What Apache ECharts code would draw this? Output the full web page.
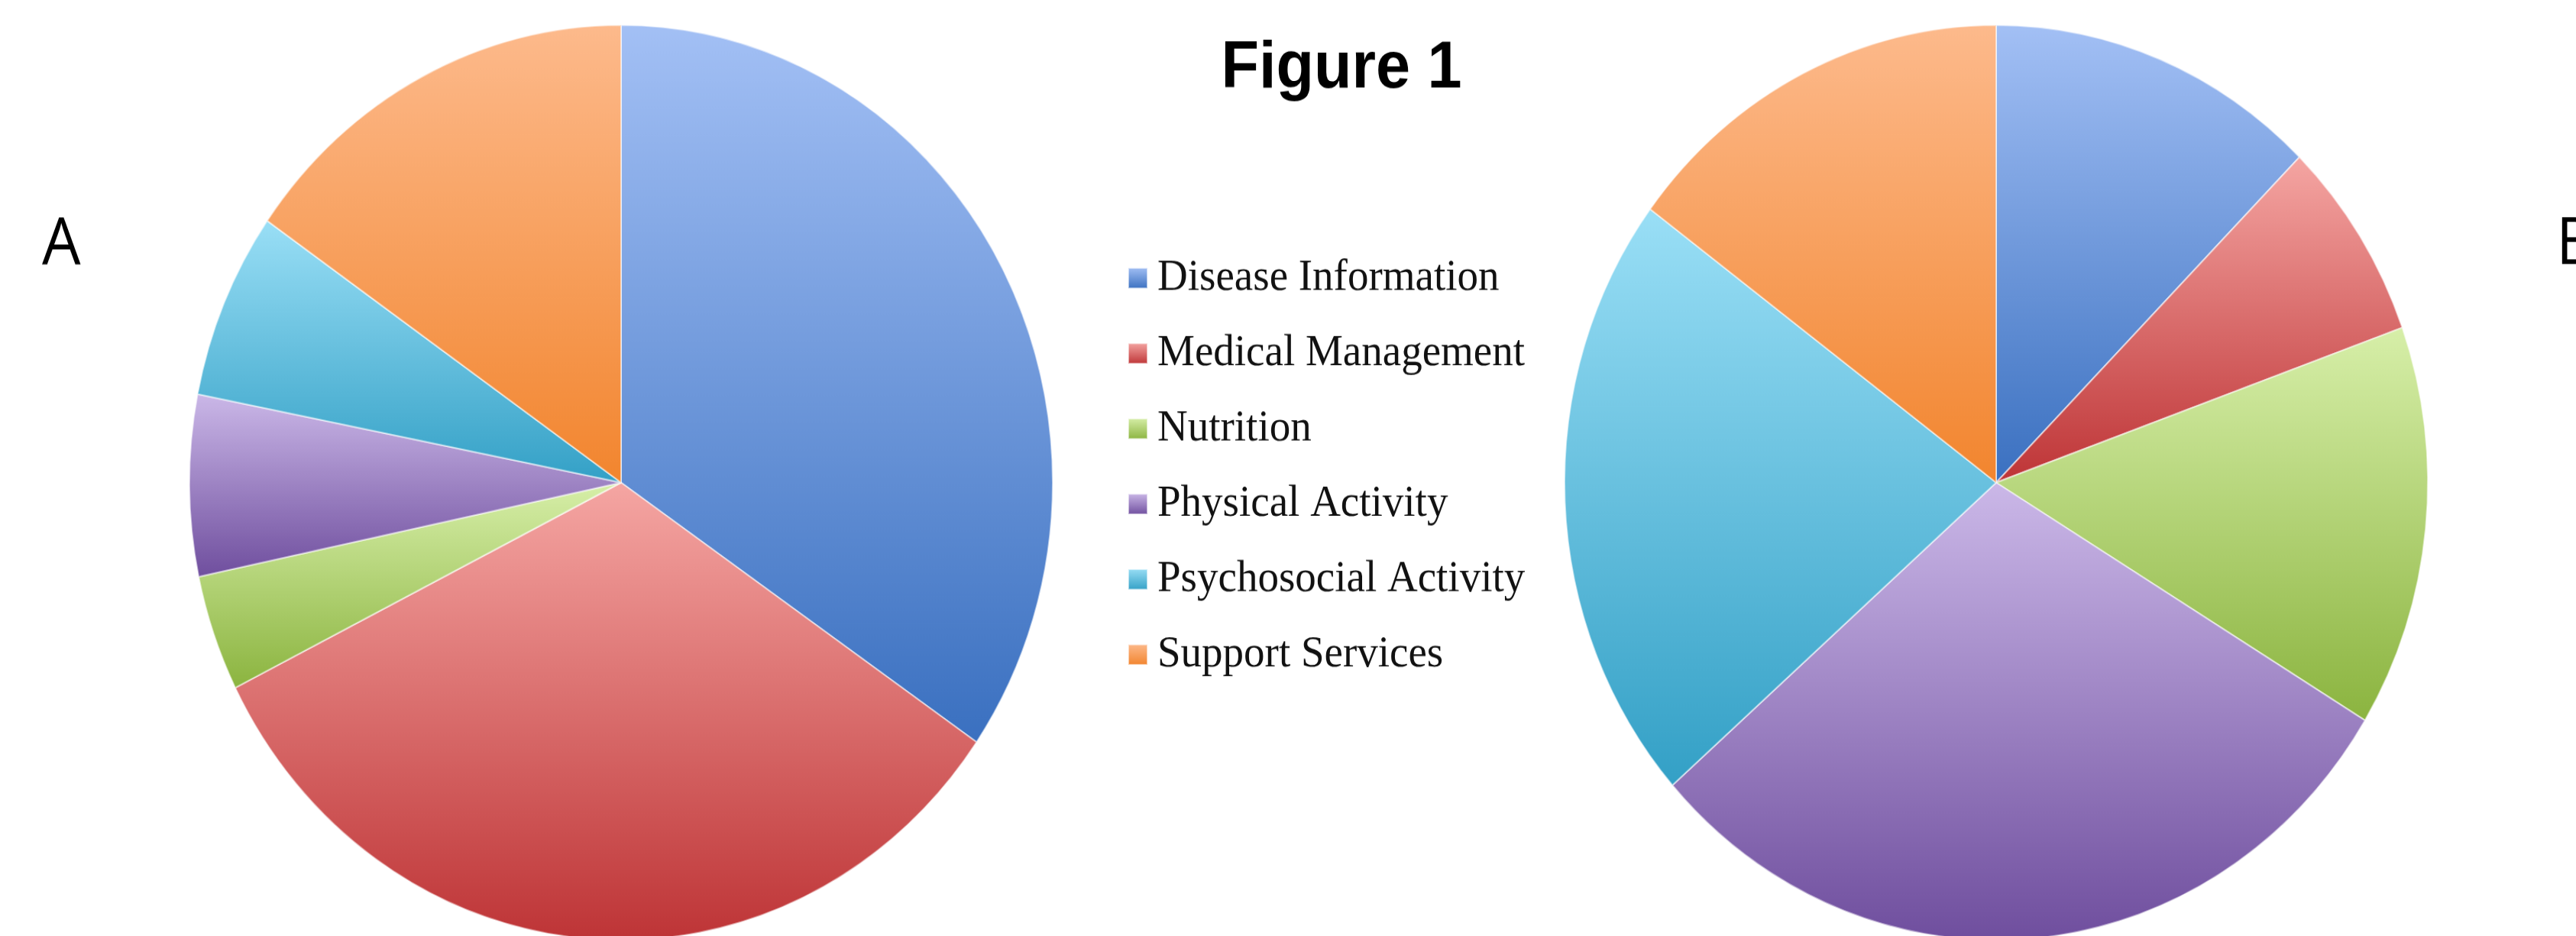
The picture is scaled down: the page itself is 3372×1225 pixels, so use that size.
<!DOCTYPE html>
<html>
<head>
<meta charset="utf-8">
<script src="https://cdn.jsdelivr.net/npm/echarts@6/dist/echarts.min.js"></script>
<style>
  html, body { margin: 0; padding: 0; background: #ffffff; width: 3372px; height: 1225px; }
  #wrap { position: relative; width: 3372px; height: 1225px; overflow: visible; }
  #chart { position: absolute; left: 0; top: 0; width: 3372px; height: 1156px; transform: scaleY(1.0597); transform-origin: 0 0; }
</style>
</head>
<body>
<div id="wrap"><div id="chart"></div></div>
<script>
// ---- data ----
const categories = ['Disease Information', 'Medical Management', 'Nutrition', 'Physical Activity', 'Psychosocial Activity', 'Support Services'];
const valuesA = [34.6, 33.0, 4.1, 6.4, 6.6, 15.3];
const valuesB = [12.4, 7.1, 14.2, 29.8, 21.7, 14.8];
const panelLabels = ['A', 'B'];
const figureTitle = 'Figure 1';

// gradient stops (top light -> bottom dark), one pair per category
const colorTop = ['#A3C0F5', '#F5A6A3', '#D7EFA9', '#CBB8E8', '#9ADFF6', '#FDBA8C'];
const colorBottom = ['#3A70C0', '#BE3436', '#8BB43F', '#6F4E9E', '#33A0C6', '#F2852E'];

function grad(i) {
  return new echarts.graphic.LinearGradient(0, 0, 0, 1, [
    { offset: 0, color: colorTop[i] },
    { offset: 1, color: colorBottom[i] }
  ]);
}

function buildData(values) {
  return categories.map((name, i) => ({
    name: name,
    value: values[i],
    itemStyle: { color: grad(i) }
  }));
}

const chart = echarts.init(document.getElementById('chart'), null, { renderer: 'canvas' });

const pieCommon = {
  type: 'pie',
  radius: 565,
  startAngle: 90,
  clockwise: true,
  avoidLabelOverlap: false,
  label: { show: false },
  labelLine: { show: false },
  emphasis: { disabled: true },
  itemStyle: { borderColor: 'rgba(255,255,255,0.55)', borderWidth: 2 },
  animation: false
};

chart.setOption({
  backgroundColor: '#ffffff',
  animation: false,
  legend: {
    orient: 'vertical',
    left: 1471,
    top: 311,
    itemWidth: 25,
    itemHeight: 25,
    itemGap: 38,
    icon: 'rect',
    selectedMode: false,
    data: categories,
    textStyle: {
      fontFamily: '"Liberation Serif", "Times New Roman", serif',
      fontSize: 55,
      lineHeight: 55,
      color: '#111111',
      padding: [0, 0, 0, 8]
    }
  },
  graphic: [
    {
      type: 'text', x: 1756, y: 86,
      style: {
        text: figureTitle, fill: '#000',
        font: 'bold 81px "Liberation Sans", Arial, sans-serif',
        textAlign: 'center', textVerticalAlign: 'middle',
        align: 'center', verticalAlign: 'middle'
      }
    },
    {
      type: 'text', x: 55, y: 303,
      style: {
        text: panelLabels[0], fill: '#000',
        font: '80px "Open Sans", "Noto Sans", sans-serif',
        textAlign: 'left', textVerticalAlign: 'middle',
        align: 'left', verticalAlign: 'middle'
      }
    },
    {
      type: 'text', x: 3346, y: 303,
      style: {
        text: panelLabels[1], fill: '#000',
        font: '80px "Open Sans", "Noto Sans", sans-serif',
        textAlign: 'left', textVerticalAlign: 'middle',
        align: 'left', verticalAlign: 'middle'
      }
    }
  ],
  series: [
    Object.assign({}, pieCommon, { name: 'A', center: [813, 596], data: buildData(valuesA) }),
    Object.assign({}, pieCommon, { name: 'B', center: [2613, 596], data: buildData(valuesB) })
  ]
});
</script>
</body>
</html>
